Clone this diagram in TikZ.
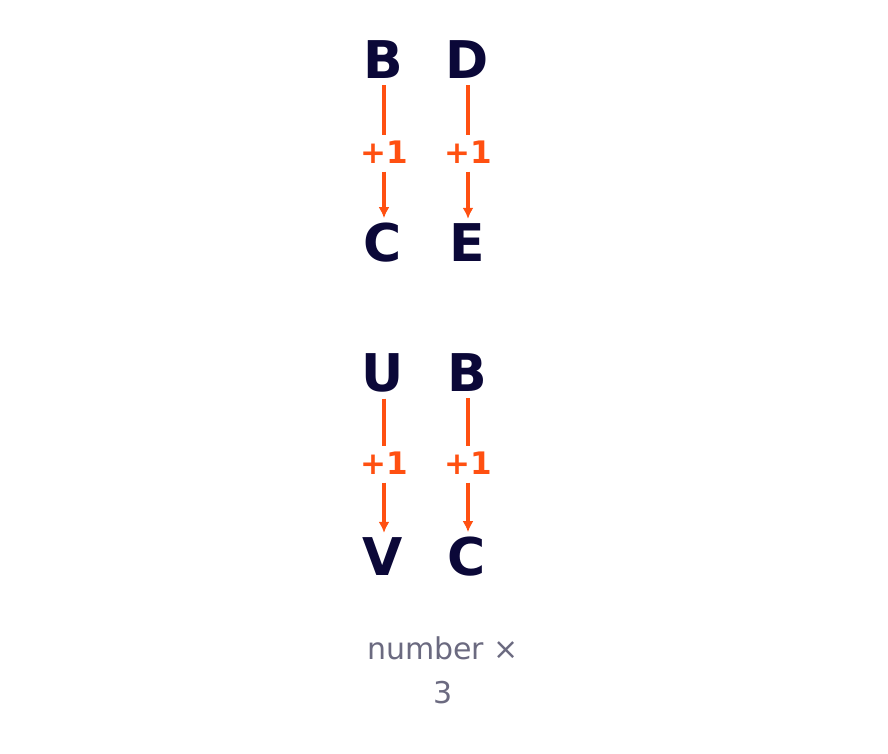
\documentclass[tikz,border=0pt]{standalone}
\usepackage{fontspec}
\setmainfont{DejaVu Sans}
\usetikzlibrary{arrows.meta}
\definecolor{ink}{HTML}{0B0838}
\definecolor{shift}{HTML}{FF5011}
\definecolor{note}{HTML}{6B6A80}
\begin{document}
\begin{tikzpicture}[x=1pt,y=-1pt,
  letter/.style={font=\fontsize{52}{60}\selectfont\bfseries,text=ink,inner sep=0pt},
  plus/.style={font=\fontsize{31}{36}\selectfont\bfseries,text=shift,inner sep=0pt},
  link/.style={draw=shift,line width=3.8pt},
  incr/.style={link,-{Latex[length=11pt,width=11pt]}}]
\useasboundingbox (0,0) rectangle (888,753);

% first pair
\node[letter] (b1) at (383,60) {B};
\node[letter] (d1) at (467,60) {D};
\node[plus] (p1) at (384,152) {+1};
\node[plus] (p2) at (468,152) {+1};
\node[letter] (c1) at (383,243) {C};
\node[letter] (e1) at (467,243) {E};

% second pair
\node[letter] (u2) at (383,373) {U};
\node[letter] (b2) at (467,373) {B};
\node[plus] (p3) at (384,463) {+1};
\node[plus] (p4) at (468,463) {+1};
\node[letter] (v2) at (383,557) {V};
\node[letter] (c2) at (467,557) {C};

\foreach \a/\p/\c in {b1/p1/c1,d1/p2/e1,u2/p3/v2,b2/p4/c2}{
  \draw[link,shorten <=6pt,shorten >=6pt] (\a.south -| \p) -- (\p.north);
  \draw[incr,shorten <=8pt,shorten >=5pt] (\p.south) -- (\c.north -| \p);
}

\node[font=\fontsize{30}{44}\selectfont,text=note,align=center] (cap) at (443,670) {number ×\\3};
\end{tikzpicture}
\end{document}
